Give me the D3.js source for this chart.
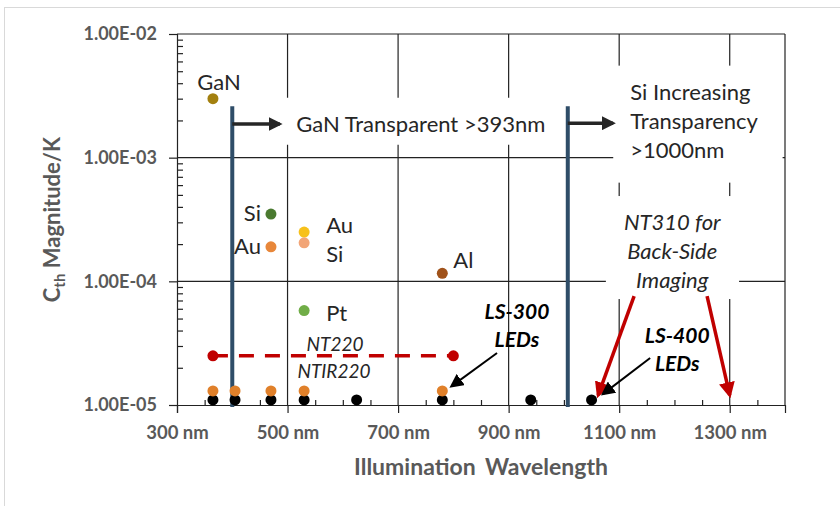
<!DOCTYPE html>
<html>
<head>
<meta charset="utf-8">
<script src="https://cdn.jsdelivr.net/npm/d3@7"></script>
<style>
  body { margin: 0; background: #fff; }
  text { font-family: Lato, "Open Sans", sans-serif; }
</style>
</head>
<body>
<script>
// chart size
const width = 840;
const height = 506;

// material points (wavelength nm, Cth magnitude /K)
const materialNames = ["GaN", "Si", "Au", "Au", "Si", "Al", "Pt"];
const materialWavelengths = [365, 470, 470, 530, 530, 780, 530];
const materialValues = [3.0e-3, 3.5e-4, 1.9e-4, 2.5e-4, 2.05e-4, 1.16e-4, 5.8e-5];
const materialColors = ["#a3800f", "#4a7a30", "#e8873a", "#f7c11b", "#f2a577", "#a0521a", "#70ad47"];
// label offsets in px, relative to the point
const labelOffsets = [[6, -9, "middle"], [-10, 7, "end"], [-10, 7, "end"], [22, 1, "start"], [22, 19, "start"], [11, -5, "start"], [22, 10, "start"]];

// LED rows along the bottom
const ledOrangeWavelengths = [365, 405, 470, 530, 780];
const ledOrangeValue = 1.3e-5;
const ledBlackWavelengths = [365, 405, 470, 530, 625, 780, 940, 1050];
const ledBlackValue = 1.1e-5;

// NT220 / NTIR220 range
const ntRange = [365, 800];
const ntValue = 2.5e-5;

// transparency limits
const transparencyWavelengths = [400, 1007];
const transparencyTop = 2.6e-3;

// axis ticks
const xTicks = [300, 500, 700, 900, 1100, 1300];
const yTicks = [1e-5, 1e-4, 1e-3, 1e-2];

const svg = d3.select("body").append("svg")
    .attr("width", width)
    .attr("height", height);

// outer frame
svg.append("rect")
    .attr("x", 4.5).attr("y", 7.5)
    .attr("width", 860).attr("height", 520)
    .attr("fill", "#fff")
    .attr("stroke", "#d9d9d9");

const x = d3.scaleLinear().domain([300, 1400]).range([177, 785]);
const y = d3.scaleLog().domain([1e-5, 1e-2]).range([405, 34]);

const gridColor = "#222";

// grid lines
svg.append("g")
    .selectAll("line")
    .data([1e-4, 1e-3, 1e-2])
    .join("line")
    .attr("x1", x(300)).attr("x2", x(1400))
    .attr("y1", d => y(d)).attr("y2", d => y(d))
    .attr("stroke", gridColor).attr("stroke-width", 1.2);

svg.append("g")
    .selectAll("line")
    .data([500, 700, 900, 1100, 1300, 1400])
    .join("line")
    .attr("x1", d => x(d)).attr("x2", d => x(d))
    .attr("y1", y(1e-5)).attr("y2", y(1e-2))
    .attr("stroke", gridColor).attr("stroke-width", 1.2);

// minor ticks
const minorY = [];
[1e-5, 1e-4, 1e-3].forEach(base => {
    for (let k = 2; k <= 9; k++) minorY.push(base * k);
});
svg.append("g")
    .attr("transform", `translate(${x(300)},0)`)
    .call(d3.axisRight(y).tickValues(minorY).tickSize(6).tickFormat(""))
    .call(g => g.select(".domain").remove())
    .call(g => g.selectAll("line").attr("stroke", gridColor).attr("stroke-width", 1.2));

const minorX = d3.range(350, 1400, 50).filter(d => d % 200 !== 100);
svg.append("g")
    .attr("transform", `translate(0,${y(1e-5)})`)
    .call(d3.axisTop(x).tickValues(minorX).tickSize(5).tickFormat(""))
    .call(g => g.select(".domain").remove())
    .call(g => g.selectAll("line").attr("stroke", gridColor).attr("stroke-width", 1.2));

// y axis
function sci(d) {
    const [m, e] = d.toExponential(2).toUpperCase().split("E");
    const neg = e[0] === "-";
    const digits = e.replace(/[+-]/, "").padStart(2, "0");
    return `${m}E${neg ? "-" : ""}${digits}`;
}

svg.append("g")
    .attr("transform", `translate(${x(300)},0)`)
    .call(d3.axisLeft(y).tickValues(yTicks).tickSize(8).tickPadding(12).tickFormat(sci))
    .call(g => g.select(".domain").attr("stroke", gridColor).attr("stroke-width", 1.2))
    .call(g => g.selectAll("line").attr("stroke", gridColor).attr("stroke-width", 1.2))
    .call(g => g.selectAll("text")
        .attr("fill", "#595959")
        .style("font-family", "Lato, sans-serif")
        .style("font-size", "18px")
        .style("font-weight", "bold"));

// x axis
svg.append("g")
    .attr("transform", `translate(0,${y(1e-5)})`)
    .call(d3.axisBottom(x).tickValues(xTicks).tickSize(8).tickPadding(13).tickFormat(d => `${d} nm`))
    .call(g => g.select(".domain").attr("stroke", gridColor).attr("stroke-width", 1.2))
    .call(g => g.selectAll("line").attr("stroke", gridColor).attr("stroke-width", 1.2))
    .call(g => g.selectAll("text")
        .attr("fill", "#595959")
        .style("font-family", "Lato, sans-serif")
        .style("font-size", "18.5px")
        .style("font-weight", "bold"));

// axis titles
svg.append("text")
    .attr("x", (x(300) + x(1400)) / 2)
    .attr("y", 475)
    .attr("text-anchor", "middle")
    .attr("fill", "#595959")
    .style("font-size", "23px")
    .style("font-weight", "bold")
    .style("word-spacing", "4px")
    .text("Illumination Wavelength");

const yTitle = svg.append("text")
    .attr("transform", `translate(60,${(y(1e-5) + y(1e-2)) / 2}) rotate(-90)`)
    .attr("text-anchor", "middle")
    .attr("fill", "#595959")
    .style("font-size", "22px")
    .style("font-weight", "bold");
yTitle.append("tspan").text("C");
yTitle.append("tspan").attr("dy", 5).style("font-size", "15px").text("th");
yTitle.append("tspan").attr("dy", -5).text(" Magnitude/K");

// white text boxes
function textBox(lines, cx, cy, anchor, style, pad) {
    const g = svg.append("g");
    const rect = g.append("rect").attr("fill", "#fff");
    const t = g.append("text")
        .attr("x", cx).attr("y", cy)
        .attr("text-anchor", anchor)
        .attr("fill", "#262626")
        .style("font-size", style.size)
        .style("font-style", style.italic ? "italic" : "normal")
        .style("font-weight", style.bold ? "bold" : "normal");
    lines.forEach((l, i) => {
        t.append("tspan").attr("x", cx).attr("dy", i === 0 ? "0.35em" : style.lineHeight).text(l);
    });
    const b = t.node().getBBox();
    rect.attr("x", b.x - pad[0]).attr("y", b.y - pad[1])
        .attr("width", b.width + pad[0] + pad[2]).attr("height", b.height + pad[1] + pad[3]);
    return g;
}

textBox(["GaN Transparent >393nm"], x(741), y(1.87e-3), "middle", { size: "22px" }, [12, 12, 10, 8]);
textBox(["Si Increasing", "Transparency", ">1000nm"], x(1120), y(3.4e-3), "start", { size: "22px", lineHeight: "29px" }, [17, 12, 24, 20]);
textBox(["NT310 for", "Back-Side", "Imaging"], x(1196), y(3.0e-4), "middle", { size: "22px", italic: true, lineHeight: "29px" }, [18, 12, 18, 6]);

// arrow markers
const defs = svg.append("defs");
function marker(id, color, size) {
    defs.append("marker")
        .attr("id", id)
        .attr("viewBox", "0 0 10 10")
        .attr("refX", 8).attr("refY", 5)
        .attr("markerUnits", "userSpaceOnUse")
        .attr("markerWidth", size).attr("markerHeight", size)
        .attr("orient", "auto")
        .append("path")
        .attr("d", "M0,0 L10,5 L0,10 Z")
        .attr("fill", color);
}
marker("arrowDark", "#262626", 14);
marker("arrowRed", "#c00000", 16);
marker("arrowBlack", "#000", 14);

// transparency lines
svg.append("g")
    .selectAll("line")
    .data(transparencyWavelengths)
    .join("line")
    .attr("x1", d => x(d)).attr("x2", d => x(d))
    .attr("y1", y(1e-5) + 2).attr("y2", y(transparencyTop))
    .attr("stroke", "#2f4d68").attr("stroke-width", 4);

// horizontal arrows from transparency lines
const transparencyArrowEnds = [[486, 1.87e-3], [1089, 1.9e-3]];
svg.append("g")
    .selectAll("line")
    .data(transparencyArrowEnds)
    .join("line")
    .attr("x1", (d, i) => x(transparencyWavelengths[i]))
    .attr("x2", d => x(d[0]))
    .attr("y1", d => y(d[1])).attr("y2", d => y(d[1]))
    .attr("stroke", "#262626").attr("stroke-width", 3.5)
    .attr("marker-end", "url(#arrowDark)");

// NT310 red arrows
const ntArrows = [[[1127, 7.6e-5], [1062, 1.2e-5]], [[1259, 7.6e-5], [1300, 1.2e-5]]];
svg.append("g")
    .selectAll("line")
    .data(ntArrows)
    .join("line")
    .attr("x1", d => x(d[0][0])).attr("y1", d => y(d[0][1]))
    .attr("x2", d => x(d[1][0])).attr("y2", d => y(d[1][1]))
    .attr("stroke", "#c00000").attr("stroke-width", 3.5)
    .attr("marker-end", "url(#arrowRed)");

// LS arrows
const lsArrows = [[[879, 2.63e-5], [797, 1.42e-5]], [[1156, 2.4e-5], [1071, 1.23e-5]]];
svg.append("g")
    .selectAll("line")
    .data(lsArrows)
    .join("line")
    .attr("x1", d => x(d[0][0])).attr("y1", d => y(d[0][1]))
    .attr("x2", d => x(d[1][0])).attr("y2", d => y(d[1][1]))
    .attr("stroke", "#000").attr("stroke-width", 2)
    .attr("marker-end", "url(#arrowBlack)");

// LS labels
[["LS-300", "LEDs", 915, 5.7e-5], ["LS-400", "LEDs", 1205, 3.65e-5]].forEach(d => {
    const t = svg.append("text")
        .attr("text-anchor", "middle")
        .attr("fill", "#000")
        .style("font-size", "21px")
        .style("font-style", "italic")
        .style("font-weight", "bold");
    t.append("tspan").attr("x", x(d[2])).attr("y", y(d[3])).attr("dy", "0.35em").text(d[0]);
    t.append("tspan").attr("x", x(d[2])).attr("dy", 28).text(d[1]);
});

// NT220 dashed range
svg.append("line")
    .attr("x1", x(ntRange[0])).attr("x2", x(ntRange[1]))
    .attr("y1", y(ntValue)).attr("y2", y(ntValue))
    .attr("stroke", "#c00000").attr("stroke-width", 3.5)
    .attr("stroke-dasharray", "15,11");
svg.append("g")
    .selectAll("circle")
    .data(ntRange)
    .join("circle")
    .attr("cx", d => x(d)).attr("cy", y(ntValue))
    .attr("r", 5.5).attr("fill", "#c00000");

svg.append("text")
    .attr("x", x(586)).attr("y", y(ntValue) - 5)
    .attr("text-anchor", "middle").attr("fill", "#262626")
    .style("font-size", "19px").style("font-style", "italic")
    .text("NT220");
svg.append("text")
    .attr("x", x(584)).attr("y", y(ntValue) + 22)
    .attr("text-anchor", "middle").attr("fill", "#262626")
    .style("font-size", "19px").style("font-style", "italic")
    .text("NTIR220");

// LED points
svg.append("g")
    .selectAll("circle")
    .data(ledBlackWavelengths)
    .join("circle")
    .attr("cx", d => x(d)).attr("cy", y(ledBlackValue))
    .attr("r", 5.5).attr("fill", "#000");
svg.append("g")
    .selectAll("circle")
    .data(ledOrangeWavelengths)
    .join("circle")
    .attr("cx", d => x(d)).attr("cy", y(ledOrangeValue))
    .attr("r", 5.5).attr("fill", "#e0802a");

// material points and labels
const materials = materialNames.map((name, i) => ({
    name, wl: materialWavelengths[i], v: materialValues[i], color: materialColors[i], off: labelOffsets[i]
}));
svg.append("g")
    .selectAll("circle")
    .data(materials)
    .join("circle")
    .attr("cx", d => x(d.wl)).attr("cy", d => y(d.v))
    .attr("r", 5.5).attr("fill", d => d.color);
svg.append("g")
    .selectAll("text")
    .data(materials)
    .join("text")
    .attr("x", d => x(d.wl) + d.off[0])
    .attr("y", d => y(d.v) + d.off[1])
    .attr("text-anchor", d => d.off[2])
    .attr("fill", "#262626")
    .style("font-size", "22px")
    .text(d => d.name);
</script>
</body>
</html>
